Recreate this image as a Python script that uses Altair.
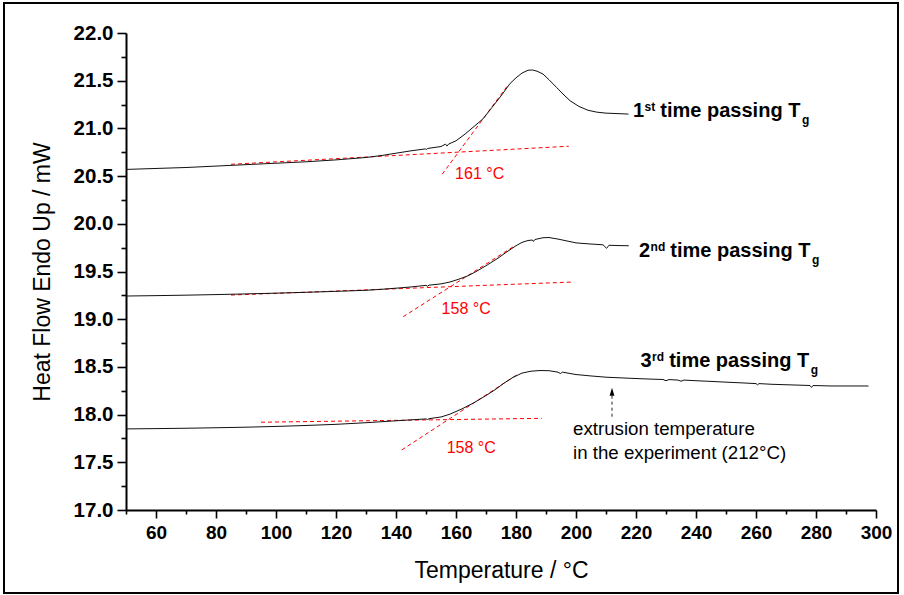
import altair as alt
import pandas as pd

FONT = "Liberation Sans"

# ---- curve data (Temperature in °C, heat flow in mW) ----
t1 = [50, 60, 70, 80, 90, 100, 110, 120, 130, 135, 140, 145, 149.8, 150.2, 150.6, 155, 156.5, 157, 157.5,
      160, 163, 166, 169, 172, 175, 178, 180, 182, 184, 185.5, 187, 189, 191, 193.5, 196, 198, 201, 204,
      207, 210, 214, 217.5]
h1 = [20.57, 20.58, 20.59, 20.605, 20.62, 20.635, 20.65, 20.67, 20.695, 20.715, 20.74, 20.765, 20.785,
      20.78, 20.79, 20.81, 20.835, 20.815, 20.835, 20.87, 20.94, 21.02, 21.10, 21.22, 21.34, 21.47, 21.53,
      21.58, 21.61, 21.612, 21.60, 21.57, 21.51, 21.43, 21.35, 21.29, 21.23, 21.19, 21.17, 21.16, 21.155,
      21.15]

t2 = [50, 60, 70, 80, 90, 100, 110, 120, 130, 135, 140, 145, 150, 150.5, 151, 155, 158, 161, 164, 167,
      170.4, 174, 177, 180, 182, 184, 185.5, 185.8, 186.3, 189, 191, 194, 197, 200, 204, 209, 210.2, 211,
      214, 217.6]
h2 = [19.243, 19.247, 19.252, 19.258, 19.265, 19.273, 19.282, 19.292, 19.303, 19.313, 19.325, 19.338,
      19.355, 19.345, 19.357, 19.37, 19.39, 19.42, 19.455, 19.505, 19.568, 19.64, 19.707, 19.77, 19.805,
      19.825, 19.83, 19.815, 19.835, 19.854, 19.856, 19.84, 19.82, 19.80, 19.79, 19.78, 19.743, 19.775,
      19.772, 19.77]

t3 = [50, 60, 70, 80, 90, 100, 110, 120, 130, 135, 140, 145, 150, 150.5, 151, 155, 158, 162, 166, 170,
      173, 176, 179, 182, 185, 188, 191, 194, 194.8, 195.5, 200, 205, 210, 215, 220, 225, 229, 230, 231,
      234, 235, 236, 240, 245, 250, 255, 260, 260.5, 261, 265, 270, 275, 278, 278.5, 279, 285, 290, 297.5]
h3 = [17.85, 17.853, 17.857, 17.862, 17.868, 17.876, 17.886, 17.898, 17.915, 17.925, 17.935, 17.945,
      17.955, 17.948, 17.957, 17.975, 18.005, 18.06, 18.125, 18.20, 18.26, 18.33, 18.39, 18.435, 18.455,
      18.462, 18.46, 18.445, 18.43, 18.445, 18.42, 18.405, 18.392, 18.385, 18.378, 18.372, 18.368, 18.355,
      18.367, 18.362, 18.35, 18.362, 18.355, 18.348, 18.34, 18.333, 18.325, 18.312, 18.325, 18.318,
      18.313, 18.308, 18.305, 18.285, 18.305, 18.30, 18.30, 18.30]

# ---- tangent construction lines (red dashed) ----
seg_x1 = [85, 155.4, 85, 142.4, 95, 141.9]
seg_y1 = [20.624, 20.52, 19.253, 19.026, 17.92, 17.629]
seg_x2 = [197.6, 177.0, 199.1, 179.1, 188.6, 180.2]
seg_y2 = [20.813, 21.44, 19.39, 19.76, 17.961, 18.415]

# ---- Tg labels ----
tg_text = ["161 °C", "158 °C", "158 °C"]
tg_x = [159.7, 155.2, 156.9]
tg_y = [20.466, 19.05, 17.60]

# ---- series labels ----
lab_num = ["1", "2", "3"]
lab_sup = ["st", "nd", "rd"]
lab_x = [219.0, 221.0, 221.5]
lab_y = [21.123, 19.655, 18.50]

# ---- extrusion annotation ----
ext_lines = ["extrusion temperature", "in the experiment (212°C)"]
ext_x = [199.0, 199.0]
ext_y = [17.786, 17.535]
arrow_x = [212.0, 212.0]
arrow_y = [17.978, 18.24]

x_major = list(range(60, 301, 20))
x_minor = list(range(50, 300, 20))
y_major = [17.0 + 0.5 * i for i in range(11)]
y_minor = [17.25 + 0.5 * i for i in range(10)]

sx = alt.Scale(domain=[50, 300], nice=False, zero=False)
sy = alt.Scale(domain=[17, 22], nice=False, zero=False)

rows = []
for name, ts, hs in (("1", t1, h1), ("2", t2, h2), ("3", t3, h3)):
    for t, h in zip(ts, hs):
        rows.append({"series": name, "T": t, "HF": h})
curves = pd.DataFrame(rows)

common_axis = dict(grid=False, domainColor="black", tickColor="black", labelColor="black",
                   labelFont=FONT, labelFontWeight="bold", titleFont=FONT, titleColor="black",
                   titleFontWeight="normal", labelFlush=False, labelOverlap=False)

lines = alt.Chart(curves).mark_line(color="#111111", strokeWidth=1).encode(
    x=alt.X("T:Q", scale=sx, axis=alt.Axis(values=x_major, format="d", title="Temperature / °C",
                                            orient="bottom", tickSize=8, tickWidth=1.6, domainWidth=2,
                                            labelFontSize=19, labelPadding=5, titleFontSize=23,
                                            titleX=375, titleY=67, titleBaseline="alphabetic",
                                            **common_axis)),
    y=alt.Y("HF:Q", scale=sy, axis=alt.Axis(values=y_major, format=".1f", title="Heat Flow Endo Up / mW",
                                             orient="left", tickSize=9, tickWidth=1.6, domainWidth=2,
                                             labelFontSize=20.5, labelPadding=4, titleFontSize=23,
                                             titleX=-77, titleY=238.5, titleBaseline="alphabetic",
                                             **common_axis)),
    detail="series:N",
)

segs = pd.DataFrame({"x": seg_x1, "y": seg_y1, "x2": seg_x2, "y2": seg_y2})
tangents = alt.Chart(segs).mark_rule(color="#ff0000", strokeWidth=1, strokeDash=[4, 3]).encode(
    x=alt.X("x:Q", scale=sx, axis=alt.Axis(values=x_minor, labels=False, title=None, orient="bottom",
                                            tickSize=4, tickWidth=1.6, domain=False, grid=False,
                                            tickColor="black")),
    y=alt.Y("y:Q", scale=sy, axis=alt.Axis(values=y_minor, labels=False, title=None, orient="left",
                                            tickSize=5, tickWidth=1.6, domain=False, grid=False,
                                            tickColor="black")),
    x2="x2:Q",
    y2="y2:Q",
)


def xenc(field="x"):
    return alt.X(f"{field}:Q", scale=sx, axis=None)


def yenc(field="y"):
    return alt.Y(f"{field}:Q", scale=sy, axis=None)


tg_df = pd.DataFrame({"x": tg_x, "y": tg_y, "text": tg_text})
tg_labels = alt.Chart(tg_df).mark_text(color="#ff0000", font=FONT, fontSize=16, align="left",
                                       baseline="alphabetic").encode(x=xenc(), y=yenc(), text="text:N")

ext_df = pd.DataFrame({"x": ext_x, "y": ext_y, "text": ext_lines})
ext_labels = alt.Chart(ext_df).mark_text(color="black", font=FONT, fontSize=18.7, align="left",
                                         baseline="alphabetic").encode(x=xenc(), y=yenc(), text="text:N")

arrow_df = pd.DataFrame({"x": arrow_x, "y": arrow_y, "g": ["a", "a"]})
arrow_line = alt.Chart(arrow_df).mark_line(color="#222222", strokeWidth=1, strokeDash=[3, 3]).encode(
    x=xenc(), y=yenc(), detail="g:N")
arrow_head = alt.Chart(arrow_df.iloc[[1]]).mark_point(
    shape="M0,-1L0.6,1L-0.6,1Z", filled=True, color="black", size=64, opacity=1).encode(x=xenc(), y=yenc())

# series labels built from pieces (number, superscript, main text, subscript)
sup_w = {"st": 0.889, "nd": 1.222, "rd": 1.0}
label_layers = []
for num, sup, lx, ly in zip(lab_num, lab_sup, lab_x, lab_y):
    d = pd.DataFrame({"x": [lx], "y": [ly]})
    w_num = 0.556 * 20
    w_sup = sup_w[sup] * 12
    w_space = 0.278 * 20
    w_main = 7.002 * 20
    base = alt.Chart(d)
    label_layers.append(base.mark_text(text=num, font=FONT, fontSize=20, fontWeight="bold", align="left",
                                       baseline="alphabetic", color="black").encode(x=xenc(), y=yenc()))
    label_layers.append(base.mark_text(text=sup, font=FONT, fontSize=12, fontWeight="bold", align="left",
                                       baseline="alphabetic", color="black", dx=w_num + 0.5, dy=-6)
                        .encode(x=xenc(), y=yenc()))
    label_layers.append(base.mark_text(text="time passing T", font=FONT, fontSize=20, fontWeight="bold",
                                       align="left", baseline="alphabetic", color="black",
                                       dx=w_num + w_sup + w_space).encode(x=xenc(), y=yenc()))
    label_layers.append(base.mark_text(text="g", font=FONT, fontSize=12, fontWeight="bold", align="left",
                                       baseline="alphabetic", color="black",
                                       dx=w_num + w_sup + w_space + w_main + 1.5, dy=7)
                        .encode(x=xenc(), y=yenc()))

border = alt.Chart(pd.DataFrame({"a": [0]})).mark_rect(fill=None, stroke="black", strokeWidth=2).encode(
    x=alt.value(-122), x2=alt.value(772), y=alt.value(-30), y2=alt.value(560))

chart = alt.layer(
    tangents, lines, tg_labels, ext_labels, arrow_line, arrow_head, *label_layers, border
).resolve_axis(x="independent", y="independent").properties(
    width=750, height=477,
    autosize=alt.AutoSizeParams(type="none"),
    padding={"left": 126, "top": 33, "right": 28, "bottom": 85},
    background="white",
).configure_view(stroke=None)

chart.save("out.html", embed_options={"renderer": "svg", "actions": False})
